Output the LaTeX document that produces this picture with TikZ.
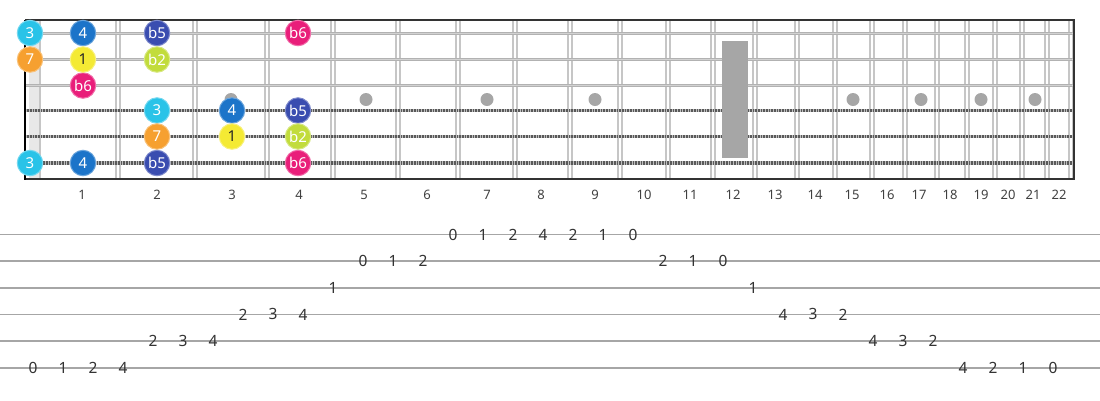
\documentclass[tikz,border=0pt]{standalone}
\usepackage{fontspec}
\setmainfont{Noto Sans}
\definecolor{cCyan}{HTML}{29C3E8}
\definecolor{cBlue}{HTML}{1C74C9}
\definecolor{cIndigo}{HTML}{3A4DB0}
\definecolor{cPink}{HTML}{E91E7A}
\definecolor{cOrange}{HTML}{F6A030}
\definecolor{cYellow}{HTML}{F4EA34}
\definecolor{cLime}{HTML}{C2DC3C}
\tikzset{
  note/.style={circle, minimum size=25.5pt, inner sep=0pt, fill=#1, draw=#1!65!white, line width=1pt, text=white, font=\fontsize{15}{15}\selectfont},
  tabnum/.style={font=\fontsize{15.5}{15.5}\selectfont, text=black!80, inner sep=0.5pt},
  fretnum/.style={font=\fontsize{13}{13}\selectfont, text=black!75},
  inlay/.style={circle, fill=gray!70, minimum size=13pt, inner sep=0pt},
  fretwire/.style={gray!45, line width=1.3pt},
  plainstring/.style={gray!60, line width=3pt},
  woundbase/.style={gray!50, line width=3.4pt},
  woundtex/.style={black!65, line width=3.4pt, dash pattern=on 0.8pt off 0.8pt},
  border/.style={black!80, line width=2pt},
  tabline/.style={gray!70, line width=1.6pt},
}
\begin{document}
\begin{tikzpicture}[x=1pt,y=-1pt]
\useasboundingbox (0,0) rectangle (1100,400);
% nut bar
\fill[gray!18] (29,20) rectangle (41,179);
\draw[gray!45, line width=1.5pt] (40,20) -- (40,179);
% frets
\foreach \f in {118,195,267,333,398,458,515,570,620,668,713,755,797,835,872,905,937,967,995,1022,1047,1071}{
  \draw[fretwire] (\f-2,20) -- (\f-2,179);
  \draw[fretwire] (\f+2,20) -- (\f+2,179);
}
% inlays
\foreach \x [count=\i] in {231,366,487,595,853,921,981,1035}{
  \node[inlay] (dot\i) at (\x,99.5) {};
}
% strings
\foreach \y [count=\i] in {33,59.5,85}{
  \coordinate (sL\i) at (25,\y);
  \coordinate (sR\i) at (1074,\y);
  \draw[plainstring] (sL\i) -- (sR\i);
  \draw[gray!35, line width=0.8pt] (sL\i) -- (sR\i);
}
\foreach \y [count=\i from 4] in {110.5,136.5,163}{
  \coordinate (sL\i) at (25,\y);
  \coordinate (sR\i) at (1074,\y);
  \draw[woundbase] (sL\i) -- (sR\i);
  \draw[woundtex] (sL\i) -- (sR\i);
}
% 12th fret marker
\fill[gray!70] (722,41) rectangle (748,158);
% borders
\draw[border] (25,20) -- (1074,20);
\draw[border] (25,179) -- (1074,179);
\draw[border] (1074,19) -- (1074,180);
\draw[black, line width=2.6pt] (25,20) -- (25,180);
% fret numbers
\foreach \x [count=\i] in {82,157,232,299,364,427,487,541,595,644,690,733,775,815,852,887,919,950,981,1008,1033,1059}{
  \node[fretnum] (fn\i) at (\x,195) {\i};
}
% notes
\foreach \x/\y/\c/\t [count=\i] in {
  30/33/cCyan/3, 83/33/cBlue/4, 157/33/cIndigo/b5, 298/33/cPink/b6,
  30/59.5/cOrange/7, 157/59.5/cLime/b2,
  83/85.5/cPink/b6,
  157/110.5/cCyan/3, 232/110.5/cBlue/4, 298/110.5/cIndigo/b5,
  157/136.5/cOrange/7, 298/136.5/cLime/b2,
  30/163/cCyan/3, 83/163/cBlue/4, 157/163/cIndigo/b5, 298/163/cPink/b6}{
  \node[note=\c] (n\i) at (\x,\y) {\t};
}
\foreach \x/\y [count=\i] in {83/59.5, 232/136.5}{
  \node[note=cYellow, text=black!85] (r\i) at (\x,\y) {1};
}
% tab lines
\foreach \l in {1,...,6}{
  \coordinate (tL\l) at (0,{234.5+(\l-1)*26.65});
  \coordinate (tR\l) at (1100,{234.5+(\l-1)*26.65});
  \draw[tabline] (tL\l) -- (tR\l);
}
% tab numbers
\foreach \k/\l/\d in {0/6/0,1/6/1,2/6/2,3/6/4,4/5/2,5/5/3,6/5/4,7/4/2,8/4/3,9/4/4,10/3/1,11/2/0,12/2/1,13/2/2,14/1/0,15/1/1,16/1/2,17/1/4,18/1/2,19/1/1,20/1/0,21/2/2,22/2/1,23/2/0,24/3/1,25/4/4,26/4/3,27/4/2,28/5/4,29/5/3,30/5/2,31/6/4,32/6/2,33/6/1,34/6/0}{
  \node[tabnum] (t\k) at ({33+30*\k},{234.5+(\l-1)*26.65}) {\d};
}
\end{tikzpicture}
\end{document}
